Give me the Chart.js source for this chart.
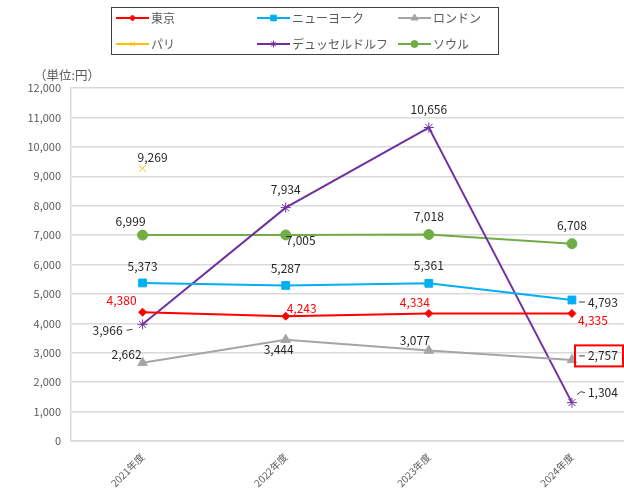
<!DOCTYPE html>
<html lang="ja">
<head>
<meta charset="utf-8">
<title>都市別 価格推移</title>
<script src="https://cdn.jsdelivr.net/npm/chart.js@4.4.0/dist/chart.umd.min.js"></script>
<style>
  html, body { margin: 0; padding: 0; background: #fff; overflow: hidden; }
  #wrap { width: 650px; height: 489px; }
</style>
</head>
<body>
<div id="wrap"><canvas id="priceChart" width="650" height="489"></canvas></div>
<script>
// --- Data ---
const years = ['2021年度', '2022年度', '2023年度', '2024年度'];
const tokyo = [4380, 4243, 4334, 4335];
const newYork = [5373, 5287, 5361, 4793];
const london = [2662, 3444, 3077, 2757];
const paris = [9269, null, null, null];
const dusseldorf = [3966, 7934, 10656, 1304];
const seoul = [6999, 7005, 7018, 6708];
const yTicks = [0, 1000, 2000, 3000, 4000, 5000, 6000, 7000, 8000, 9000, 10000, 11000, 12000];

const FONT = "'Noto Sans CJK JP', 'Noto Sans', sans-serif";

// label offsets from each point [dx, dy], plus optional leader line
const labelPos = {
  '東京': [[-21, -12], [16, -8], [-14, -11], [21, 7]],
  'ニューヨーク': [[0, -17], [0, -17], [0, -18], [31, 2, 'dash']],
  'ロンドン': [[-16, -8], [-7, 10], [-14, -10], [31, -4, 'dash']],
  'パリ': [[10, -11]],
  'デュッセルドルフ': [[-35, 6, 'dashL'], [0, -18], [0, -18], [31, -10, 'hook']],
  'ソウル': [[-12, -14], [15, 6], [0, -18], [0, -18]]
};

function makeSet(label, data, color, style, radius) {
  return {
    label: label,
    data: data,
    borderColor: color,
    backgroundColor: color,
    borderWidth: 2,
    pointStyle: style,
    pointRadius: radius,
    pointBorderWidth: 1,
    pointBorderColor: color,
    pointBackgroundColor: color,
    tension: 0,
    spanGaps: false
  };
}

// Legend drawn as a boxed 3x2 grid like the original
const gridLegend = {
  id: 'gridLegend',
  afterDraw(chart) {
    const ctx = chart.ctx;
    ctx.save();
    ctx.strokeStyle = '#404040';
    ctx.lineWidth = 1;
    ctx.strokeRect(111.5, 7.5, 387, 47);
    const cols = [116, 257, 398];
    const rows = [18, 44];
    chart.data.datasets.forEach((ds, i) => {
      const x = cols[i % 3];
      const y = rows[Math.floor(i / 3)];
      ctx.strokeStyle = ds.borderColor;
      ctx.fillStyle = ds.backgroundColor;
      ctx.lineWidth = 2;
      ctx.beginPath();
      ctx.moveTo(x, y);
      ctx.lineTo(x + 33, y);
      ctx.stroke();
      ctx.lineWidth = 1;
      Chart.helpers.drawPoint(ctx, {
        pointStyle: ds.pointStyle,
        radius: Math.max(ds.pointRadius - 1.5, 3),
        borderWidth: 1,
        rotation: 0
      }, x + 16.5, y);
      ctx.fillStyle = '#595959';
      ctx.font = '12px ' + FONT;
      ctx.textBaseline = 'middle';
      ctx.textAlign = 'left';
      ctx.fillText(ds.label, x + 35, y);
    });
    // unit label above the y axis
    ctx.font = '12.5px ' + FONT;
    ctx.fillStyle = '#595959';
    ctx.fillText('（単位:円）', 34, 75);
    ctx.restore();
  }
};

// Value labels beside the points
const valueLabels = {
  id: 'valueLabels',
  afterDatasetsDraw(chart) {
    const ctx = chart.ctx;
    ctx.save();
    ctx.font = '12px ' + FONT;
    ctx.textAlign = 'center';
    ctx.textBaseline = 'middle';
    chart.data.datasets.forEach((ds, i) => {
      const meta = chart.getDatasetMeta(i);
      const offs = labelPos[ds.label] || [];
      meta.data.forEach((pt, j) => {
        const v = ds.data[j];
        if (v === null || v === undefined) return;
        const off = offs[j] || [0, -16];
        const lx = pt.x + off[0];
        const ly = pt.y + off[1];
        const text = v.toLocaleString('en-US');
        ctx.fillStyle = ds.label === '東京' ? '#FF0000' : '#262626';
        ctx.fillText(text, lx, ly);
        const w = ctx.measureText(text).width;
        ctx.strokeStyle = '#404040';
        ctx.lineWidth = 1;
        if (off[2] === 'dash') {
          ctx.beginPath();
          ctx.moveTo(lx - w / 2 - 9, ly);
          ctx.lineTo(lx - w / 2 - 3, ly);
          ctx.stroke();
        } else if (off[2] === 'dashL') {
          ctx.beginPath();
          ctx.moveTo(lx + w / 2 + 4, ly);
          ctx.lineTo(lx + w / 2 + 10, ly - 1);
          ctx.stroke();
        } else if (off[2] === 'hook') {
          ctx.beginPath();
          ctx.moveTo(pt.x + 5, pt.y - 8);
          ctx.lineTo(pt.x + 9, pt.y - 11);
          ctx.lineTo(lx - w / 2 - 3, ly);
          ctx.stroke();
        }
        if (ds.label === 'ロンドン' && j === 3) {
          ctx.strokeStyle = '#FF0000';
          ctx.lineWidth = 2;
          ctx.strokeRect(575, ly - 10.5, 48, 21);
        }
      });
    });
    ctx.restore();
  }
};

const priceChart = new Chart(document.getElementById('priceChart'), {
  type: 'line',
  data: {
    labels: years,
    datasets: [
      makeSet('東京', tokyo, '#FF0000', 'rectRot', 4),
      makeSet('ニューヨーク', newYork, '#00B0F0', 'rect', 5.5),
      makeSet('ロンドン', london, '#A5A5A5', 'triangle', 5.5),
      makeSet('パリ', paris, '#FFC000', 'crossRot', 5),
      makeSet('デュッセルドルフ', dusseldorf, '#7030A0', 'star', 5),
      makeSet('ソウル', seoul, '#70AD47', 'circle', 5)
    ]
  },
  options: {
    responsive: false,
    animation: false,
    layout: { padding: { top: 88, left: 0, right: 0, bottom: 0 } },
    plugins: {
      legend: { display: false },
      tooltip: { enabled: false }
    },
    scales: {
      x: {
        type: 'category',
        offset: true,
        grid: { display: false, drawTicks: false },
        border: { color: '#D9D9D9', width: 1.5 },
        ticks: {
          color: '#595959',
          font: { family: FONT, size: 10 },
          minRotation: 45,
          maxRotation: 45,
          padding: 10
        },
        afterFit(scale) { scale.height = 48; }
      },
      y: {
        min: 0,
        max: 12000,
        afterBuildTicks(scale) { scale.ticks = yTicks.map(v => ({ value: v })); },
        grid: { color: '#D9D9D9', lineWidth: 1.5, drawTicks: false },
        border: { color: '#D9D9D9', width: 1.5 },
        ticks: {
          color: '#595959',
          font: { family: FONT, size: 11 },
          padding: 10,
          callback: v => v.toLocaleString('en-US')
        },
        afterFit(scale) { scale.width = 71; }
      }
    }
  },
  plugins: [gridLegend, valueLabels]
});
</script>
</body>
</html>
